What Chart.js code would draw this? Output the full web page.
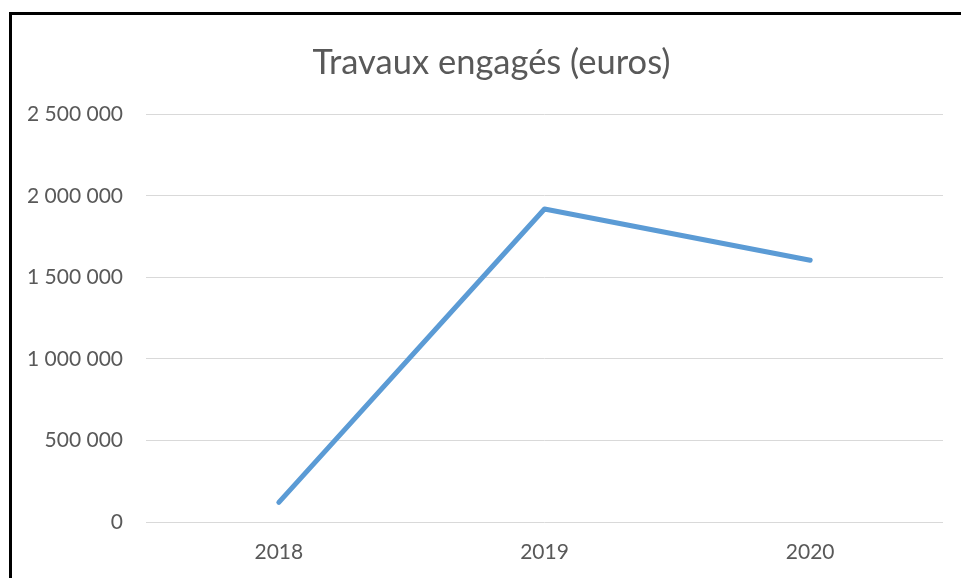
<!DOCTYPE html>
<html>
<head>
<meta charset="utf-8">
<script src="https://cdn.jsdelivr.net/npm/chart.js@4"></script>
<style>
  html, body { margin: 0; padding: 0; background: #fff; overflow: hidden; }
  #frame {
    position: absolute; left: 9px; top: 12px;
    width: 952px; height: 566px; overflow: hidden;
    border-left: 3px solid #000; border-top: 3px solid #000;
  }
  #wrap { position: absolute; left: 0; top: 0; width: 977px; height: 563px; }
</style>
</head>
<body>
<div id="frame"><div id="wrap"><canvas id="chart"></canvas></div></div>
<script>
// data
const years = ['2018', '2019', '2020'];
const travaux = [120000, 1920000, 1605000];
const yTicks = [0, 500000, 1000000, 1500000, 2000000, 2500000];

function fmtSpace(v) {
    return String(v).replace(/\B(?=(\d{3})+(?!\d))/g, ' ');
}

const font = "Lato, 'Open Sans', sans-serif";
const grey = '#595959';

new Chart(document.getElementById('chart'), {
    type: 'line',
    data: {
        labels: years,
        datasets: [{
            label: 'Travaux engagés (euros)',
            data: travaux,
            borderColor: '#5B9BD5',
            borderWidth: 5,
            borderCapStyle: 'round',
            borderJoinStyle: 'round',
            pointRadius: 0,
            tension: 0,
            fill: false,
        }]
    },
    options: {
        responsive: true,
        maintainAspectRatio: false,
        animation: false,
        layout: { padding: { left: 0, right: 18, top: 0, bottom: 0 } },
        plugins: {
            legend: { display: false },
            tooltip: { enabled: false },
            title: {
                display: true,
                text: 'Travaux engagés (euros)',
                color: grey,
                font: { family: font, size: 34.5, weight: 'normal' },
                padding: { top: 27, bottom: 31 },
            },
        },
        scales: {
            x: {
                offset: true,
                grid: { display: false, drawTicks: false },
                border: { display: false },
                ticks: { color: grey, font: { family: font, size: 21 }, padding: 18 },
                afterFit: (s) => { s.height = 56; },
            },
            y: {
                min: 0,
                max: 2500000,
                afterBuildTicks: (s) => { s.ticks = yTicks.map(v => ({ value: v })); },
                grid: { color: '#d9d9d9', lineWidth: 1, drawTicks: false },
                border: { display: false },
                ticks: { color: grey, font: { family: font, size: 21 }, padding: 23, callback: (v) => fmtSpace(v) },
                afterFit: (s) => { s.width = 134; },
            },
            // empty right-hand spacer so the centred title sits where the reference has it
            spacer: {
                type: 'linear',
                position: 'right',
                grid: { display: false, drawTicks: false },
                border: { display: false },
                ticks: { display: false },
                afterFit: (s) => { s.width = 28; },
            },
        },
    },
});
</script>
</body>
</html>
